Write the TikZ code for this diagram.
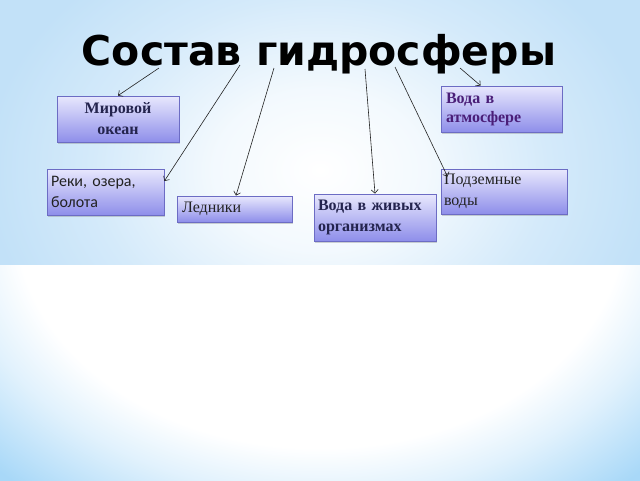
\documentclass[tikz,border=0pt]{standalone}
\usepackage{fontspec}
\setmainfont{Liberation Serif}
\newfontfamily\titlefont{DejaVu Sans}
\newfontfamily\calfont{Carlito}
\usetikzlibrary{arrows.meta,shadows,calc}
\definecolor{bgblue}{HTML}{A8D8F8}
\definecolor{bgtop}{HTML}{C2E1F8}
\definecolor{boxtop}{HTML}{E8E8FD}
\definecolor{boxbot}{HTML}{8E8EEA}
\definecolor{boxline}{HTML}{6C6CC4}
\definecolor{navytext}{HTML}{24244E}
\definecolor{purpletext}{HTML}{4A1E78}
\definecolor{graytext}{HTML}{222222}
\definecolor{arrowc}{HTML}{222222}
% TikZ maps the inner 25bp radius of a radial shading onto the half-size of the path box
\pgfdeclareradialshading{topbg}{\pgfpoint{0bp}{0bp}}{color(0bp)=(white); color(7bp)=(white!80!bgtop); color(15bp)=(bgtop!70); color(22bp)=(bgtop); color(50bp)=(bgtop)}
\pgfdeclareradialshading{lowbg}{\pgfpoint{0bp}{0bp}}{color(0bp)=(white); color(19bp)=(white); color(23bp)=(bgblue!35); color(29bp)=(bgblue); color(50bp)=(bgblue)}
\tikzset{
  box/.style={draw=boxline, line width=0.8pt, top color=boxtop, bottom color=boxbot,
    drop shadow={shadow xshift=1.2pt, shadow yshift=-1.8pt, opacity=0.35},
    rectangle, inner xsep=5pt, inner ysep=2pt, align=left},
  conn/.style={draw=arrowc, line width=0.6pt, -{Straight Barb[length=3.5pt,width=7pt]}}
}
\begin{document}
\begin{tikzpicture}[x=1pt,y=-1pt]
\useasboundingbox (0,0) rectangle (640,480);
% background
\begin{scope}
  \clip (0,0) rectangle (640,480);
  \shade[shading=lowbg] (-80,-80) rectangle (720,520);
  \clip (0,0) rectangle (640,264);
  \shade[shading=topbg] (-60,-120) rectangle (700,460);
\end{scope}
% title
\node[font=\titlefont\bfseries\fontsize{41}{48}\selectfont, inner sep=0pt, anchor=base] (title) at (319,65) {Состав гидросферы};
% boxes
\node[box, minimum width=122pt, minimum height=46pt, text width=112pt, align=center, font=\bfseries\fontsize{16}{21}\selectfont, text=navytext] (mir) at (118,119) {Мировой\\океан};
\node[box, minimum width=121pt, minimum height=46pt, text width=111pt, font=\bfseries\fontsize{16}{19}\selectfont, text=purpletext] (atm) at (501.5,109) {Вода в\\атмосфере};
\node[box, minimum width=117pt, minimum height=46pt, text width=109pt, inner xsep=4pt, font=\calfont\fontsize{16}{21}\selectfont, text=graytext] (reki) at (105.5,192) {Реки, озера,\\болота};
\node[box, minimum width=115pt, minimum height=26pt, text width=105pt, font=\fontsize{16}{20}\selectfont, text=graytext] (led) at (234.5,209) {Ледники};
\node[box, minimum width=122pt, minimum height=47pt, text width=114pt, inner xsep=4pt, font=\bfseries\fontsize{16}{21}\selectfont, text=navytext] (zhiv) at (375,217.5) {Вода в живых\\организмах};
\node[box, minimum width=126pt, minimum height=45pt, text width=120pt, inner xsep=3pt, font=\fontsize{16}{21}\selectfont, text=graytext] (podz) at (504,191.5) {Подземные\\воды};
% arrow starts
\coordinate (s1) at (159,68);
\coordinate (s2) at (240,65);
\coordinate (s3) at (274,68);
\coordinate (s4) at (365,69);
\coordinate (s5) at (395,67);
\coordinate (s6) at (460,68);
% connectors
\draw[conn] (s1) -- (mir.north);
\draw[conn] (s2) -- ([yshift=11pt]reki.east);
\draw[conn] (s3) -- ([xshift=1.5pt]led.north);
\draw[conn] (s4) -- (zhiv.north);
\draw[conn] (s5) -- ([xshift=7pt,yshift=-8pt]podz.north west);
\draw[conn] (s6) -- ([xshift=40pt]atm.north west);
\end{tikzpicture}
\end{document}
